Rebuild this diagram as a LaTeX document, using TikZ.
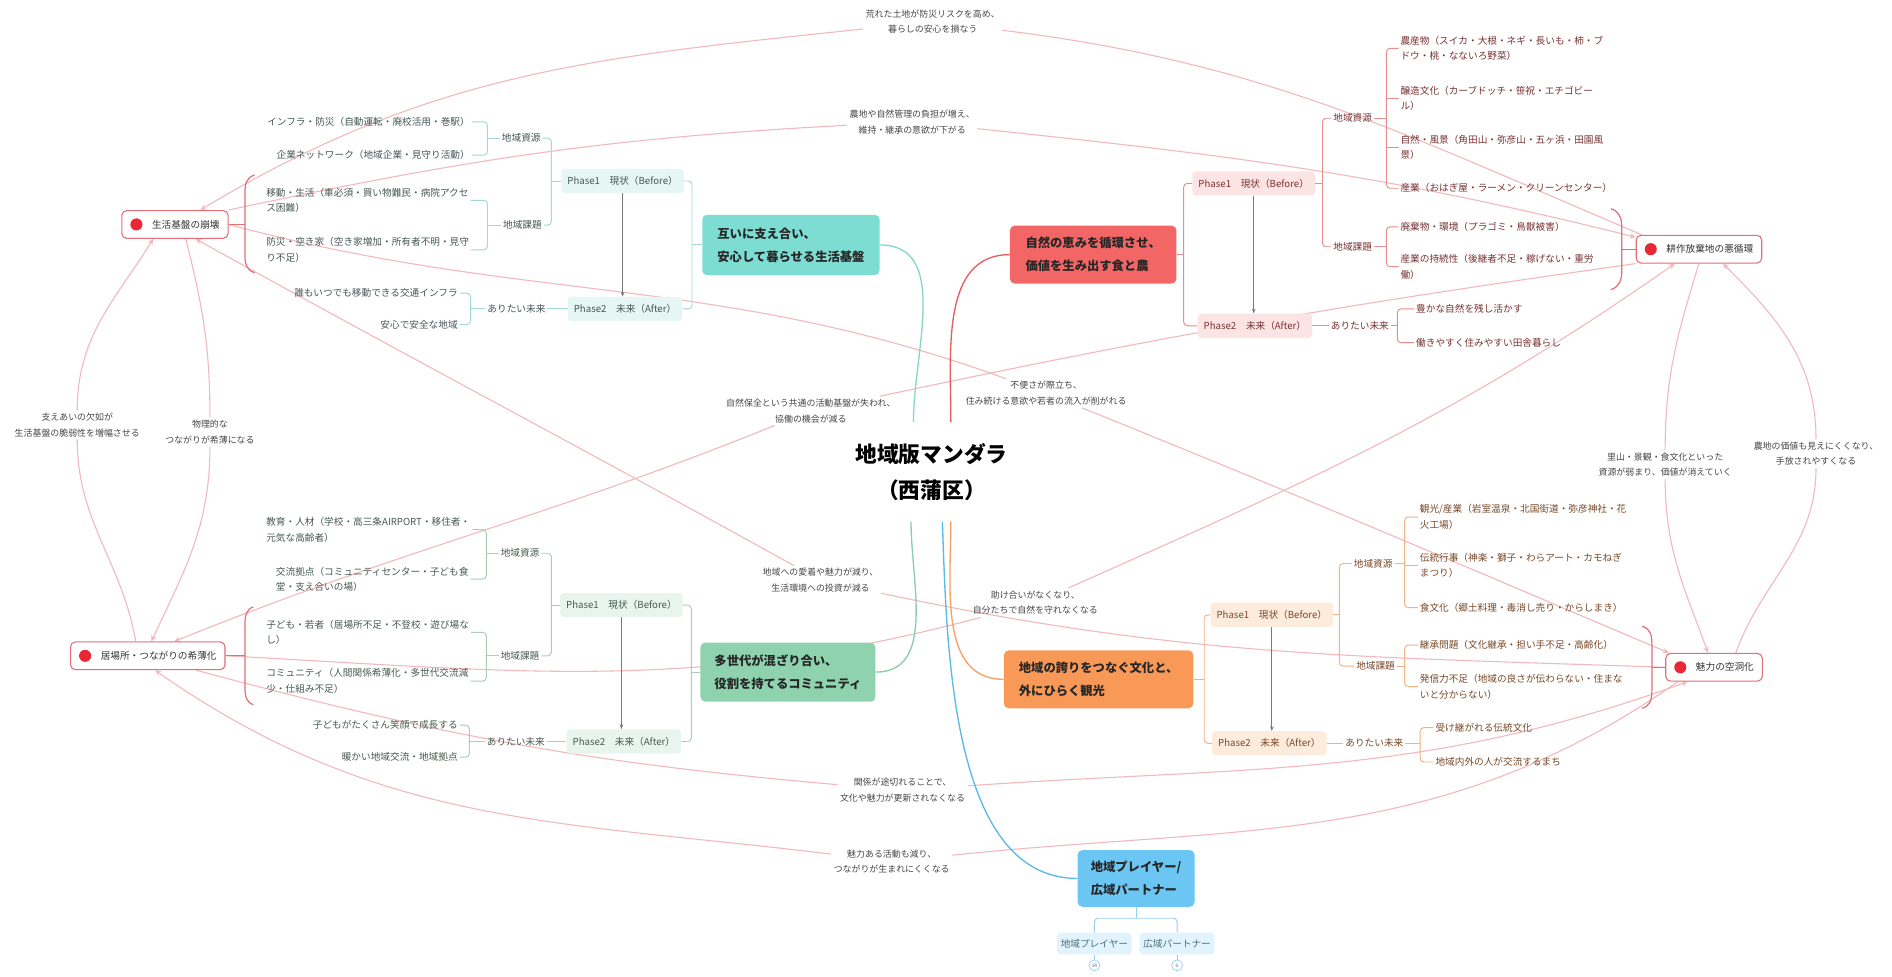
\documentclass[tikz,border=0pt]{standalone}
\usepackage{fontspec}
\setmainfont{Noto Sans CJK JP}
\usetikzlibrary{arrows.meta,backgrounds}
\definecolor{tmain}{RGB}{126,221,210}
\definecolor{rmain}{RGB}{242,102,102}
\definecolor{gmain}{RGB}{143,211,174}
\definecolor{omain}{RGB}{248,153,88}
\definecolor{bmain}{RGB}{108,198,244}
\definecolor{tlight}{RGB}{229,246,244}
\definecolor{rlight}{RGB}{252,228,228}
\definecolor{glight}{RGB}{232,245,238}
\definecolor{olight}{RGB}{253,235,220}
\definecolor{blight}{RGB}{225,243,252}
\definecolor{tline}{RGB}{160,218,210}
\definecolor{rline}{RGB}{232,140,140}
\definecolor{gline}{RGB}{170,205,188}
\definecolor{oline}{RGB}{243,178,132}
\definecolor{bline}{RGB}{150,210,240}
\definecolor{ttext}{RGB}{70,88,86}
\definecolor{rtext}{RGB}{120,50,50}
\definecolor{gtext}{RGB}{72,90,80}
\definecolor{otext}{RGB}{120,72,40}
\definecolor{btext}{RGB}{80,110,130}
\definecolor{linkpink}{RGB}{242,184,188}
\definecolor{probred}{RGB}{226,110,118}
\definecolor{dotred}{RGB}{232,40,52}
\definecolor{arrgray}{RGB}{120,120,120}
\definecolor{ctteal}{RGB}{134,214,204}
\definecolor{ctred}{RGB}{232,92,92}
\definecolor{ctgreen}{RGB}{140,205,172}
\definecolor{ctorange}{RGB}{245,160,100}
\definecolor{ctblue}{RGB}{90,185,230}
\newcommand{\mybkt}[5]{%
  \draw[#1,rounded corners=3pt] (#4) -- (#2 |- #4) -- (#2 |- #5) -- (#5);
  \draw[#1] (#3) -- (#2 |- #3);}
\begin{document}
\begin{tikzpicture}[x=1pt,y=1pt,
  item/.style={font=\fontsize{8}{13}\selectfont, inner sep=1.5pt, align=left},
  ti/.style={item, text=ttext}, ri/.style={item, text=rtext},
  gi/.style={item, text=gtext}, oi/.style={item, text=otext},
  phase/.style={rounded corners=3pt, inner xsep=5pt, inner ysep=0pt, minimum height=20pt, font=\fontsize{8}{10}\selectfont},
  mbox/.style={rounded corners=4pt, inner xsep=10pt, inner ysep=0pt, align=left, font=\fontsize{10.2}{19}\selectfont\bfseries, text=black!85},
  ctr/.style={align=center, font=\fontsize{18}{30}\selectfont\bfseries, minimum height=82pt, inner sep=0pt},
  prob/.style={draw=probred, line width=0.9pt, rounded corners=4pt, fill=white, minimum height=23pt, inner xsep=7pt, inner ysep=0pt, font=\fontsize{8}{10}\selectfont, text=black!80},
  lab/.style={font=\fontsize{7.4}{13}\selectfont, align=center, text=black!72, inner sep=2pt},
  lk/.style={draw=linkpink, line width=0.9pt},
  lka/.style={lk, -{Stealth[length=5pt,width=4.5pt]}},
  tbr/.style={draw=tline, line width=0.8pt},
  rbr/.style={draw=rline, line width=0.8pt},
  gbr/.style={draw=gline, line width=0.8pt},
  obr/.style={draw=oline, line width=0.8pt},
  bbr/.style={draw=bline, line width=0.8pt},
  garr/.style={draw=arrgray, line width=0.7pt, -{Stealth[length=4pt,width=3pt]}},
  pbr/.style={draw=probred, line width=1pt},
  cline/.style={line width=1.1pt}
]
\useasboundingbox (0,0) rectangle (1568,-809);

% ---------- centre ----------
\node[ctr] (C) at (772,-391) {地域版マンダラ\\（西蒲区）};

% ---------- teal block ----------
\node[mbox, fill=tmain, minimum width=147pt, minimum height=50pt] (Tbox) at (655.5,-203) {互いに支え合い、\\安心して暮らせる生活基盤};
\node[phase, fill=tlight, text=ttext] (TP1) at (516,-150) {Phase1　現状（Before）};
\node[phase, fill=tlight, text=ttext] (TP2) at (518,-256) {Phase2　未来（After）};
\node[ti] (Tres) at (432,-114.5) {地域資源};
\node[ti] (Tiss) at (433,-186.5) {地域課題};
\node[ti, anchor=east] (Ti1) at (391,-101) {インフラ・防災（自動運転・廃校活用・巻駅）};
\node[ti, anchor=east] (Ti2) at (391,-128.5) {企業ネットワーク（地域企業・見守り活動）};
\node[ti, anchor=west] (Ti3) at (219,-166) {移動・生活（車必須・買い物難民・病院アクセ\\ス困難）};
\node[ti, anchor=west] (Ti4) at (219,-207) {防災・空き家（空き家増加・所有者不明・見守\\り不足）};
\node[ti] (Tari) at (428,-256) {ありたい未来};
\node[ti, anchor=east] (Ti5) at (381,-243) {誰もいつでも移動できる交通インフラ};
\node[ti, anchor=east] (Ti6) at (381,-269) {安心で安全な地域};
\coordinate (tb1) at (573.5,0); \coordinate (tb2) at (457,0);
\coordinate (tb3) at (404,0); \coordinate (tb4) at (390,0);

% ---------- red block ----------
\node[mbox, fill=rmain, minimum width=138pt, minimum height=48pt] (Rbox) at (906,-211) {自然の恵みを循環させ、\\価値を生み出す食と農};
\node[phase, fill=rlight, text=rtext] (RP1) at (1039,-152) {Phase1　現状（Before）};
\node[phase, fill=rlight, text=rtext] (RP2) at (1040,-270) {Phase2　未来（After）};
\node[ri] (Rres) at (1121,-98) {地域資源};
\node[ri] (Riss) at (1121,-204.5) {地域課題};
\node[ri, anchor=west] (Ri1) at (1159,-40) {農産物（スイカ・大根・ネギ・長いも・柿・ブ\\ドウ・桃・なないろ野菜）};
\node[ri, anchor=west] (Ri2) at (1159,-81.5) {醸造文化（カーブドッチ・笹祝・エチゴビー\\ル）};
\node[ri, anchor=west] (Ri3) at (1159,-122) {自然・風景（角田山・弥彦山・五ヶ浜・田園風\\景）};
\node[ri, anchor=west] (Ri4) at (1159,-156) {産業（おはぎ屋・ラーメン・クリーンセンター）};
\node[ri, anchor=west] (Ri5) at (1159,-188) {廃棄物・環境（プラゴミ・鳥獣被害）};
\node[ri, anchor=west] (Ri6) at (1159,-221) {産業の持続性（後継者不足・稼げない・重労\\働）};
\node[ri] (Rari) at (1127,-270) {ありたい未来};
\node[ri, anchor=west] (Ri7) at (1172,-256) {豊かな自然を残し活かす};
\node[ri, anchor=west] (Ri8) at (1172,-284) {働きやすく住みやすい田舎暮らし};
\coordinate (rb1) at (981,0); \coordinate (rb2) at (1096,0);
\coordinate (rb3) at (1149,0); \coordinate (rb4) at (1158,0);

% ---------- green block ----------
\node[mbox, fill=gmain, minimum width=145pt, minimum height=49pt] (Gbox) at (653,-557) {多世代が混ざり合い、\\役割を持てるコミュニティ};
\node[phase, fill=glight, text=gtext] (GP1) at (515,-501.5) {Phase1　現状（Before）};
\node[phase, fill=glight, text=gtext] (GP2) at (517,-614.5) {Phase2　未来（After）};
\node[gi] (Gres) at (431,-458.5) {地域資源};
\node[gi] (Giss) at (431,-543.5) {地域課題};
\node[gi, anchor=west] (Gi1) at (219,-439) {教育・人材（学校・高三条AIRPORT・移住者・\\元気な高齢者）};
\node[gi, anchor=west] (Gi2) at (227,-480) {交流拠点（コミュニティセンター・子ども食\\堂・支え合いの場）};
\node[gi, anchor=west] (Gi3) at (219,-524) {子ども・若者（居場所不足・不登校・遊び場な\\し）};
\node[gi, anchor=west] (Gi4) at (219,-564.5) {コミュニティ（人間関係希薄化・多世代交流減\\少・仕組み不足）};
\node[gi] (Gari) at (427.5,-614.5) {ありたい未来};
\node[gi, anchor=east] (Gi5) at (381,-601) {子どもがたくさん笑顔で成長する};
\node[gi, anchor=east] (Gi6) at (381,-627.5) {暖かい地域交流・地域拠点};
\coordinate (gb1) at (573,0); \coordinate (gb2) at (457,0);
\coordinate (gb3) at (403,0); \coordinate (gb4) at (389,0);

% ---------- orange block ----------
\node[mbox, fill=omain, minimum width=157pt, minimum height=48pt] (Obox) at (910.5,-563) {地域の誇りをつなぐ文化と、\\外にひらく観光};
\node[phase, fill=olight, text=otext] (OP1) at (1054,-509.5) {Phase1　現状（Before）};
\node[phase, fill=olight, text=otext] (OP2) at (1052,-616) {Phase2　未来（After）};
\node[oi] (Ores) at (1138,-467) {地域資源};
\node[oi] (Oiss) at (1140,-552) {地域課題};
\node[oi, anchor=west] (Oi1) at (1175,-428.5) {観光/産業（岩室温泉・北国街道・弥彦神社・花\\火工場）};
\node[oi, anchor=west] (Oi2) at (1175,-468.6) {伝統行事（神楽・獅子・わらアート・カモねぎ\\まつり）};
\node[oi, anchor=west] (Oi3) at (1175,-503.5) {食文化（郷土料理・毒消し売り・からしまき）};
\node[oi, anchor=west] (Oi4) at (1175,-534.6) {継承問題（文化継承・担い手不足・高齢化）};
\node[oi, anchor=west] (Oi5) at (1175,-569) {発信力不足（地域の良さが伝わらない・住まな\\いと分からない）};
\node[oi] (Oari) at (1139,-616) {ありたい未来};
\node[oi, anchor=west] (Oi6) at (1188,-603) {受け継がれる伝統文化};
\node[oi, anchor=west] (Oi7) at (1188,-631.5) {地域内外の人が交流するまち};
\coordinate (ob1) at (998,0); \coordinate (ob2) at (1110,0);
\coordinate (ob3) at (1164,0); \coordinate (ob4) at (1177,0);

% ---------- blue block ----------
\node[mbox, fill=bmain, minimum width=97pt, minimum height=47pt] (Bbox) at (941.5,-728) {地域プレイヤー/\\広域パートナー};
\node[phase, fill=blight, text=btext, minimum height=18pt, inner xsep=3pt] (Bc1) at (907,-782) {地域プレイヤー};
\node[phase, fill=blight, text=btext, minimum height=18pt, inner xsep=3pt] (Bc2) at (975.5,-782) {広域パートナー};
\coordinate (bj) at (941.5,-761);
\node[circle, draw=bline, line width=0.6pt, inner sep=0pt, minimum size=9pt, font=\fontsize{4}{4}\selectfont, text=btext] (Bn1) at (907,-800) {14};
\node[circle, draw=bline, line width=0.6pt, inner sep=0pt, minimum size=9pt, font=\fontsize{4}{4}\selectfont, text=btext] (Bn2) at (975.5,-800) {6};

% ---------- problem nodes ----------
\node[prob] (seikatsu) at (145,-186) {\hspace*{18pt}生活基盤の崩壊};
\node[prob] (kou) at (1408,-206.5) {\hspace*{18pt}耕作放棄地の悪循環};
\node[prob] (igokochi) at (122.5,-543.5) {\hspace*{18pt}居場所・つながりの希薄化};
\node[prob] (miryoku) at (1420.5,-553) {\hspace*{18pt}魅力の空洞化};
\foreach \n in {seikatsu,kou,igokochi,miryoku} \fill[dotred] ([xshift=12.5pt]\n.west) circle (5pt);
\coordinate (sbk) at (203,-186);
\coordinate (kbk) at (1344,-206.5);
\coordinate (ibk) at (203,-543.5);
\coordinate (mbk) at (1369,-553);

% ---------- link labels ----------
\node[lab] (L1) at (773,-18) {荒れた土地が防災リスクを高め、\\暮らしの安心を損なう};
\node[lab] (L2) at (756,-101) {農地や自然管理の負担が増え、\\維持・継承の意欲が下がる};
\node[lab] (L3) at (867,-326) {不便さが際立ち、\\住み続ける意欲や若者の流入が削がれる};
\node[lab] (L4) at (858,-499.5) {助け合いがなくなり、\\自分たちで自然を守れなくなる};
\node[lab] (L5) at (672,-340.5) {自然保全という共通の活動基盤が失われ、\\協働の機会が減る};
\node[lab] (L6) at (680,-481) {地域への愛着や魅力が減り、\\生活環境への投資が減る};
\node[lab] (L7) at (748,-655) {関係が途切れることで、\\文化や魅力が更新されなくなる};
\node[lab] (L8) at (739,-714) {魅力ある活動も減り、\\つながりが生まれにくくなる};
\node[lab] (L9) at (64,-352) {支えあいの欠如が\\生活基盤の脆弱性を増幅させる};
\node[lab] (L10) at (174,-358) {物理的な\\つながりが希薄になる};
\node[lab] (L11) at (1380,-385) {里山・景観・食文化といった\\資源が弱まり、価値が消えていく};
\node[lab] (L12) at (1505,-376) {農地の価値も見えにくくなり、\\手放されやすくなる};

\begin{pgfonlayer}{background}
\fill[white] (0,0) rectangle (1568,-809);
% links
\draw[lk] ([xshift=5pt]kou.north west) to[out=157,in=-7] (L1);
\draw[lka] (L1) to[out=186,in=31] ([xshift=21pt]seikatsu.north);
\draw[lk] (seikatsu.north east) to[out=12,in=183] (L2);
\draw[lka] (L2) to[out=-6,in=166] ([yshift=-2pt]kou.north west);
\draw[lk] (seikatsu.east) to[out=-15,in=160] (L3);
\draw[lka] (L3) to[out=-22,in=157] ([xshift=3pt]miryoku.north west);
\draw[lk] (igokochi.east) to[out=-3,in=195] (L4);
\draw[lka] (L4) to[out=24,in=215] ([xshift=-20pt]kou.south);
\draw[lk] (kou.south west) to[out=188,in=12] (L5);
\draw[lka] (L5) to[out=202,in=22] ([xshift=22pt]igokochi.north);
\draw[lk] (miryoku.west) to[out=178,in=-12] (L6);
\draw[lka] (L6) to[out=151,in=-29] ([xshift=17pt]seikatsu.south);
\draw[lk] ([xshift=40pt]igokochi.south) to[out=-15,in=175] (L7);
\draw[lka] (L7) to[out=4,in=200] ([xshift=-22pt]miryoku.south);
\draw[lk] ([xshift=-30pt]miryoku.south) to[out=215,in=6] (L8);
\draw[lka] (L8) to[out=173,in=-35] ([xshift=6pt]igokochi.south);
\draw[lk] ([xshift=-10pt]igokochi.north) to[out=100,in=-90] (L9);
\draw[lka] (L9) to[out=90,in=-122] ([xshift=-18pt]seikatsu.south);
\draw[lk] ([xshift=9pt]seikatsu.south) to[out=-76,in=90] (L10);
\draw[lka] (L10) to[out=-90,in=65] ([xshift=3pt]igokochi.north);
\draw[lk] (kou.south) to[out=253,in=90] (L11);
\draw[lka] (L11) to[out=-90,in=110] ([xshift=-5pt]miryoku.north);
\draw[lk] ([xshift=18pt]miryoku.north) to[out=70,in=-90] (L12);
\draw[lka] (L12) to[out=90,in=-45] ([xshift=20pt]kou.south);

% centre connectors
\draw[cline, draw=ctteal] (Tbox.east) to[out=0,in=90] ([xshift=-15pt]C.north);
\draw[cline, draw=ctred] (Rbox.west) to[out=180,in=90] ([xshift=16pt]C.north);
\draw[cline, draw=ctgreen] (Gbox.east) to[out=0,in=-90] ([xshift=-17pt]C.south);
\draw[cline, draw=ctorange] ([xshift=16pt]C.south) to[out=-90,in=180] (Obox.west);
\draw[cline, draw=ctblue] ([xshift=9pt]C.south) to[out=-88,in=180,looseness=0.85] (Bbox.west);

% teal brackets
\mybkt{tbr}{tb1}{Tbox.west}{TP1.east}{TP2.east}
\mybkt{tbr}{tb2}{TP1.west}{Tres.east}{Tiss.east}
\mybkt{tbr}{tb3}{Tres.west}{Ti1.east}{Ti2.east}
\mybkt{tbr}{tb3}{Tiss.west}{Ti3.east}{Ti4.east}
\mybkt{tbr}{tb4}{Tari.west}{Ti5.east}{Ti6.east}
\draw[tbr] (TP2.west) -- (Tari.east);
\draw[garr] (TP1.south) -- (TP1.south |- TP2.north);

% red brackets
\mybkt{rbr}{rb1}{Rbox.east}{RP1.west}{RP2.west}
\mybkt{rbr}{rb2}{RP1.east}{Rres.west}{Riss.west}
\draw[rbr,rounded corners=3pt] (Ri1.west) -- (rb3 |- Ri1.west) -- (rb3 |- Ri4.west) -- (Ri4.west);
\draw[rbr] (Ri2.west) -- (rb3 |- Ri2.west);
\draw[rbr] (Ri3.west) -- (rb3 |- Ri3.west);
\draw[rbr] (Rres.east) -- (rb3 |- Rres.east);
\mybkt{rbr}{rb3}{Riss.east}{Ri5.west}{Ri6.west}
\draw[rbr] (RP2.east) -- (Rari.west);
\mybkt{rbr}{rb4}{Rari.east}{Ri7.west}{Ri8.west}
\draw[garr] (RP1.south) -- (RP1.south |- RP2.north);

% green brackets
\mybkt{gbr}{gb1}{Gbox.west}{GP1.east}{GP2.east}
\mybkt{gbr}{gb2}{GP1.west}{Gres.east}{Giss.east}
\mybkt{gbr}{gb3}{Gres.west}{Gi1.east}{Gi2.east}
\mybkt{gbr}{gb3}{Giss.west}{Gi3.east}{Gi4.east}
\mybkt{gbr}{gb4}{Gari.west}{Gi5.east}{Gi6.east}
\draw[gbr] (GP2.west) -- (Gari.east);
\draw[garr] (GP1.south) -- (GP1.south |- GP2.north);

% orange brackets
\mybkt{obr}{ob1}{Obox.east}{OP1.west}{OP2.west}
\mybkt{obr}{ob2}{OP1.east}{Ores.west}{Oiss.west}
\draw[obr,rounded corners=3pt] (Oi1.west) -- (ob3 |- Oi1.west) -- (ob3 |- Oi3.west) -- (Oi3.west);
\draw[obr] (Oi2.west) -- (ob3 |- Oi2.west);
\draw[obr] (Ores.east) -- (ob3 |- Ores.east);
\mybkt{obr}{ob3}{Oiss.east}{Oi4.west}{Oi5.west}
\draw[obr] (OP2.east) -- (Oari.west);
\mybkt{obr}{ob4}{Oari.east}{Oi6.west}{Oi7.west}
\draw[garr] (OP1.south) -- (OP1.south |- OP2.north);

% blue
\draw[bbr] (Bbox.south) -- (bj);
\draw[bbr,rounded corners=3pt] (Bc1.north) |- (bj) -| (Bc2.north);
\draw[bbr] (Bc1.south) -- (Bn1.north);
\draw[bbr] (Bc2.south) -- (Bn2.north);

% problem brackets
\draw[pbr] (211,-145) .. controls (204.5,-147) and (203,-152) .. (203,-160) -- (203,-211) .. controls (203,-219) and (204.5,-224) .. (211,-226);
\draw[pbr] (seikatsu.east) -- (sbk);
\draw[pbr] (1335,-173) .. controls (1341.5,-175) and (1344,-180) .. (1344,-188) -- (1344,-225) .. controls (1344,-233) and (1341.5,-238) .. (1335,-240);
\draw[pbr] (kbk) -- (kou.west);
\draw[pbr] (210,-503) .. controls (204,-505) and (203,-510) .. (203,-518) -- (203,-569) .. controls (203,-577) and (204,-582) .. (210,-584);
\draw[pbr] (igokochi.east) -- (ibk);
\draw[pbr] (1361,-519) .. controls (1367.5,-521) and (1369,-526) .. (1369,-534) -- (1369,-572) .. controls (1369,-580) and (1367.5,-585) .. (1361,-587);
\draw[pbr] (mbk) -- (miryoku.west);
\end{pgfonlayer}
\end{tikzpicture}
\end{document}
